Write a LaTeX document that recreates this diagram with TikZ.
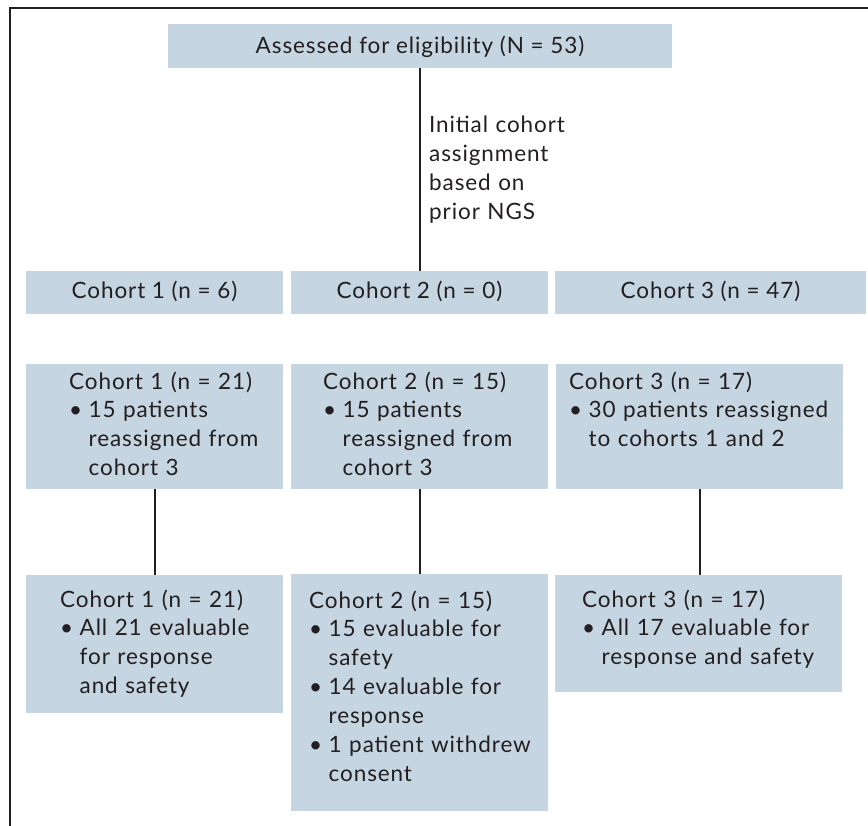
\documentclass[tikz,border=0pt]{standalone}
\usepackage{fontspec}
\setmainfont[LetterSpace=4]{Lato}
\definecolor{boxblue}{HTML}{C5D5E2}
\definecolor{ink}{HTML}{231F20}
\newcommand{\bul}{\makebox[19.5pt][l]{\textbullet}}
\newcommand{\ind}{\hspace*{19.5pt}}
\begin{document}
\begin{tikzpicture}[x=1pt,y=-1pt,
  font=\fontsize{22.5}{28.9}\selectfont, text=ink,
  box/.style={fill=boxblue, inner sep=0pt, anchor=north west},
  lbl/.style={anchor=base west, inner sep=0pt, text width=300pt, align=left},
  conn/.style={draw=ink, line width=2pt}]
\useasboundingbox (0,0) rectangle (868,826);
\draw[ink, line width=2.5pt] (868,8) -- (10,8) -- (10,826);
% boxes
\node[box, minimum width=504pt, minimum height=44pt] (top) at (168,24) {};
\node[box, minimum width=257pt, minimum height=43pt] (a1) at (26,271) {};
\node[box, minimum width=257pt, minimum height=43pt] (a2) at (291,271) {};
\node[box, minimum width=311pt, minimum height=43pt] (a3) at (555,271) {};
\node[box, minimum width=257pt, minimum height=125pt] (b1) at (26,364) {};
\node[box, minimum width=257pt, minimum height=125pt] (b2) at (291,364) {};
\node[box, minimum width=287pt, minimum height=125pt] (b3) at (556,364) {};
\node[box, minimum width=257pt, minimum height=138pt] (c1) at (26,575) {};
\node[box, minimum width=257pt, minimum height=237pt] (c2) at (291,574) {};
\node[box, minimum width=287pt, minimum height=117pt] (c3) at (555,575) {};
% texts
\node[anchor=base, inner sep=0pt] (ttop) at (420,54) {Assessed for eligibility (N = 53)};
\node[anchor=base, inner sep=0pt] (ta1) at (154.5,299) {Cohort 1 (n = 6)};
\node[anchor=base, inner sep=0pt] (ta2) at (419.5,299) {Cohort 2 (n = 0)};
\node[anchor=base, inner sep=0pt] (ta3) at (710.5,299) {Cohort 3 (n = 47)};
\node[lbl] (tlab) at (429,133) {Initial cohort\\assignment\\based on\\prior NGS};
\node[lbl] (tb1) at (69,389) {Cohort 1 (n = 21)\\\bul 15 patients\\\ind reassigned from\\\ind cohort 3};
\node[lbl] (tb2) at (323,389) {Cohort 2 (n = 15)\\\bul 15 patients\\\ind reassigned from\\\ind cohort 3};
\node[lbl] (tb3) at (569,389) {Cohort 3 (n = 17)\\\bul 30 patients reassigned\\\ind to cohorts 1 and 2};
\node[lbl] (tc1) at (60,607) {Cohort 1 (n = 21)\\\bul All 21 evaluable\\\ind for response\\\ind and safety};
\node[lbl] (tc2) at (309,608) {Cohort 2 (n = 15)\\\bul 15 evaluable for\\\ind safety\\\bul 14 evaluable for\\\ind response\\\bul 1 patient withdrew\\\ind consent};
\node[lbl] (tc3) at (582,607) {Cohort 3 (n = 17)\\\bul All 17 evaluable for\\\ind response and safety};
% connectors
\draw[conn] (top.south) -- (top.south |- a2.north);
\draw[conn] (b1.south) -- (c1.north);
\draw[conn] (b2.south) -- (c2.north);
\draw[conn] (b3.south) -- (b3.south |- c3.north);
\end{tikzpicture}
\end{document}
